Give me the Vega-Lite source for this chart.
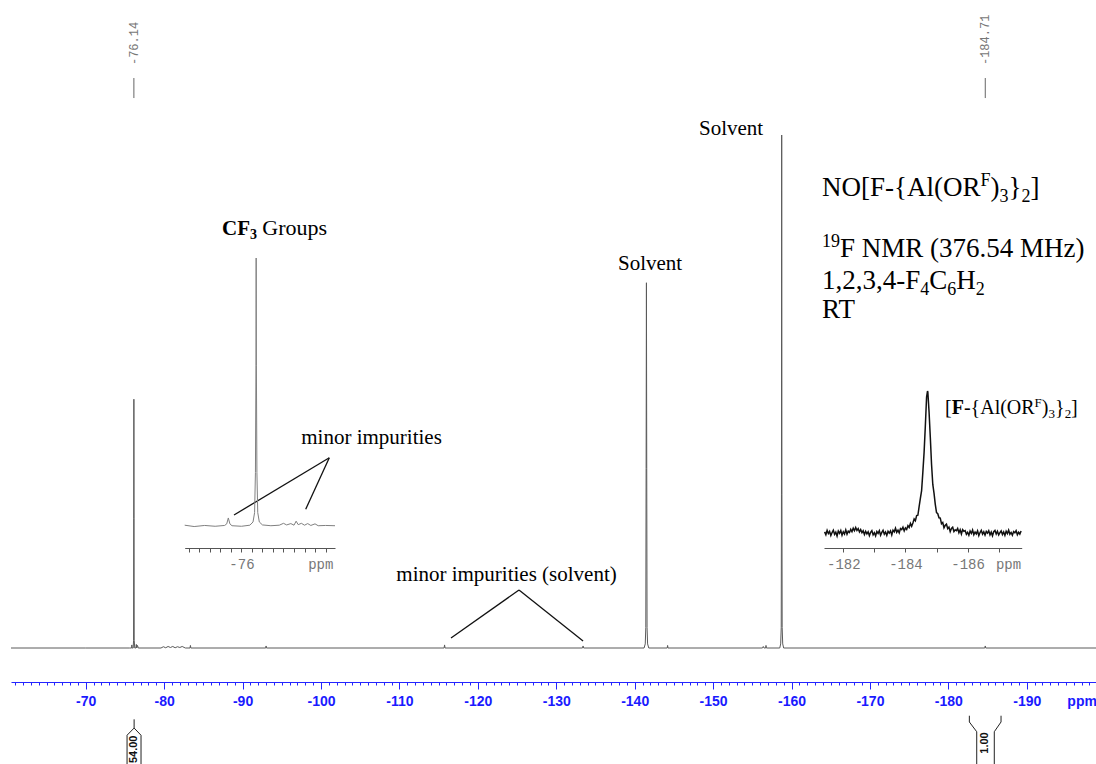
{
  "$schema": "https://vega.github.io/schema/vega-lite/v6.json",
  "width": 1096,
  "height": 764,
  "autosize": "none",
  "padding": 0,
  "background": "white",
  "config": {"view": {"stroke": null}},
  "datasets": {
    "spec": [
      {"p": -60.47, "i": 0}, {"p": -70, "i": 0}, {"p": -75.6, "i": 0}, {"p": -75.85, "i": 0},
      {"p": -75.88, "i": 0.6}, {"p": -75.91, "i": 0}, {"p": -76.05, "i": 0}, {"p": -76.1, "i": 1.5},
      {"p": -76.12, "i": 25.3}, {"p": -76.14, "i": 48.5}, {"p": -76.16, "i": 25.3}, {"p": -76.18, "i": 1.5},
      {"p": -76.25, "i": 0}, {"p": -76.4, "i": 0}, {"p": -76.45, "i": 0.7}, {"p": -76.5, "i": 0},
      {"p": -76.6, "i": 0.5}, {"p": -76.7, "i": 0}, {"p": -79.6, "i": 0}, {"p": -79.9, "i": 0.25},
      {"p": -80.2, "i": 0.05}, {"p": -80.5, "i": 0.3}, {"p": -80.8, "i": 0.1}, {"p": -81.1, "i": 0.3},
      {"p": -81.4, "i": 0.05}, {"p": -81.7, "i": 0.25}, {"p": -82.0, "i": 0.1}, {"p": -82.3, "i": 0.3},
      {"p": -82.7, "i": 0}, {"p": -83.3, "i": 0}, {"p": -83.35, "i": 0.5}, {"p": -83.4, "i": 0},
      {"p": -92.95, "i": 0}, {"p": -93.0, "i": 0.4}, {"p": -93.05, "i": 0}, {"p": -115.7, "i": 0},
      {"p": -115.76, "i": 0.6}, {"p": -115.82, "i": 0}, {"p": -133.35, "i": 0}, {"p": -133.42, "i": 0.4},
      {"p": -133.5, "i": 0}, {"p": -141.2, "i": 0}, {"p": -141.35, "i": 0.8}, {"p": -141.42, "i": 4},
      {"p": -141.46, "i": 35}, {"p": -141.5, "i": 71.2}, {"p": -141.54, "i": 35}, {"p": -141.58, "i": 4},
      {"p": -141.65, "i": 0.8}, {"p": -141.8, "i": 0}, {"p": -144.15, "i": 0}, {"p": -144.2, "i": 0.5},
      {"p": -144.25, "i": 0}, {"p": -156.3, "i": 0}, {"p": -156.4, "i": 0.3}, {"p": -156.5, "i": 0},
      {"p": -156.7, "i": 0}, {"p": -156.75, "i": 0.5}, {"p": -156.8, "i": 0}, {"p": -158.5, "i": 0},
      {"p": -158.62, "i": 0.8}, {"p": -158.69, "i": 4}, {"p": -158.72, "i": 30}, {"p": -158.75, "i": 100},
      {"p": -158.78, "i": 30}, {"p": -158.81, "i": 4}, {"p": -158.88, "i": 0.8}, {"p": -159.0, "i": 0},
      {"p": -184.65, "i": 0}, {"p": -184.71, "i": 0.4}, {"p": -184.77, "i": 0}, {"p": -198.83, "i": 0}
    ],
    "inset1": [
      {"p": -75.46, "i": 0.3}, {"p": -75.55, "i": -0.2}, {"p": -75.65, "i": 0.2}, {"p": -75.75, "i": -0.1},
      {"p": -75.84, "i": 0.2}, {"p": -75.86, "i": 0.8}, {"p": -75.875, "i": 3.0}, {"p": -75.89, "i": 0.8},
      {"p": -75.91, "i": 0.1}, {"p": -76.0, "i": -0.1}, {"p": -76.08, "i": 0.3}, {"p": -76.11, "i": 1.5},
      {"p": -76.125, "i": 5}, {"p": -76.133, "i": 20}, {"p": -76.138, "i": 60}, {"p": -76.14, "i": 100},
      {"p": -76.142, "i": 60}, {"p": -76.147, "i": 20}, {"p": -76.155, "i": 5}, {"p": -76.17, "i": 1.5},
      {"p": -76.2, "i": 0.4}, {"p": -76.28, "i": 0.1}, {"p": -76.36, "i": 0.3}, {"p": -76.4, "i": 1.0},
      {"p": -76.43, "i": 0.4}, {"p": -76.47, "i": 0.9}, {"p": -76.5, "i": 0.3}, {"p": -76.52, "i": 1.8},
      {"p": -76.54, "i": 0.5}, {"p": -76.57, "i": 1.0}, {"p": -76.6, "i": 0.3}, {"p": -76.63, "i": 0.9},
      {"p": -76.66, "i": 0.2}, {"p": -76.7, "i": 0.8}, {"p": -76.73, "i": 0.1}, {"p": -76.8, "i": 0.2},
      {"p": -76.89, "i": 0.1}
    ],
    "inset2": [
      {"p": -181.40, "i": 0.8}, {"p": -181.44, "i": -1.2}, {"p": -181.48, "i": 1.9}, {"p": -181.52, "i": -0.4},
      {"p": -181.56, "i": 1.1}, {"p": -181.60, "i": -1.8}, {"p": -181.64, "i": 0.3}, {"p": -181.68, "i": 2.0},
      {"p": -181.72, "i": -1.0}, {"p": -181.76, "i": 0.6}, {"p": -181.80, "i": -2.1}, {"p": -181.84, "i": 1.4},
      {"p": -181.88, "i": -0.2}, {"p": -181.92, "i": 1.8}, {"p": -181.96, "i": -1.5}, {"p": -182.00, "i": 0.9},
      {"p": -182.04, "i": -0.7}, {"p": -182.08, "i": 2.2}, {"p": -182.12, "i": -0.9}, {"p": -182.16, "i": 1.3},
      {"p": -182.20, "i": 0.4}, {"p": -182.24, "i": 2.6}, {"p": -182.28, "i": 0.9}, {"p": -182.32, "i": 3.4},
      {"p": -182.36, "i": 1.6}, {"p": -182.40, "i": 3.9}, {"p": -182.44, "i": 1.8}, {"p": -182.48, "i": 3.1},
      {"p": -182.52, "i": 0.7}, {"p": -182.56, "i": 2.4}, {"p": -182.60, "i": 0.2}, {"p": -182.64, "i": 1.6},
      {"p": -182.68, "i": -1.1}, {"p": -182.72, "i": 1.2}, {"p": -182.76, "i": -0.6}, {"p": -182.80, "i": 0.9},
      {"p": -182.84, "i": -1.9}, {"p": -182.88, "i": 0.5}, {"p": -182.92, "i": 1.7}, {"p": -182.96, "i": -1.3},
      {"p": -183.00, "i": 0.2}, {"p": -183.04, "i": -2.0}, {"p": -183.08, "i": 1.0}, {"p": -183.12, "i": -0.3},
      {"p": -183.16, "i": 1.6}, {"p": -183.20, "i": -1.6}, {"p": -183.24, "i": 0.4}, {"p": -183.28, "i": 1.9},
      {"p": -183.32, "i": -0.8}, {"p": -183.36, "i": 0.7}, {"p": -183.40, "i": -1.7}, {"p": -183.44, "i": 1.2},
      {"p": -183.48, "i": -0.1}, {"p": -183.52, "i": 1.5}, {"p": -183.56, "i": -1.4}, {"p": -183.60, "i": 2.0},
      {"p": -183.64, "i": 0.8}, {"p": -183.68, "i": 3.4}, {"p": -183.72, "i": 0.5}, {"p": -183.76, "i": 2.0},
      {"p": -183.80, "i": 0.1}, {"p": -183.84, "i": 3.1}, {"p": -183.88, "i": 2.4}, {"p": -183.92, "i": 4.1},
      {"p": -183.96, "i": 1.5}, {"p": -184.00, "i": 3.6}, {"p": -184.04, "i": 2.5}, {"p": -184.08, "i": 5.2},
      {"p": -184.12, "i": 3.9}, {"p": -184.16, "i": 6.7}, {"p": -184.20, "i": 4.7}, {"p": -184.24, "i": 7.1},
      {"p": -184.28, "i": 9.9}, {"p": -184.32, "i": 8.7}, {"p": -184.36, "i": 12.3}, {"p": -184.40, "i": 12.5},
      {"p": -184.44, "i": 18.5}, {"p": -184.48, "i": 24.4}, {"p": -184.52, "i": 29.9}, {"p": -184.56, "i": 42.9},
      {"p": -184.60, "i": 56.8}, {"p": -184.64, "i": 75.3}, {"p": -184.68, "i": 95.8}, {"p": -184.71, "i": 100},
      {"p": -184.72, "i": 99.4}, {"p": -184.76, "i": 85.2}, {"p": -184.80, "i": 67.4}, {"p": -184.84, "i": 48.3},
      {"p": -184.88, "i": 34.2}, {"p": -184.92, "i": 27.9}, {"p": -184.96, "i": 20.2}, {"p": -185.00, "i": 14.3},
      {"p": -185.04, "i": 13.6}, {"p": -185.08, "i": 10.7}, {"p": -185.12, "i": 10.5}, {"p": -185.16, "i": 6.5},
      {"p": -185.20, "i": 7.4}, {"p": -185.24, "i": 3.7}, {"p": -185.28, "i": 5.4}, {"p": -185.32, "i": 6.2},
      {"p": -185.36, "i": 3.1}, {"p": -185.40, "i": 4.2}, {"p": -185.44, "i": 1.0}, {"p": -185.48, "i": 3.2},
      {"p": -185.52, "i": 4.1}, {"p": -185.56, "i": 1.0}, {"p": -185.60, "i": 2.3}, {"p": -185.64, "i": 1.6},
      {"p": -185.68, "i": 3.2}, {"p": -185.72, "i": 0.2}, {"p": -185.76, "i": 2.3}, {"p": -185.80, "i": -0.7},
      {"p": -185.84, "i": 2.4}, {"p": -185.88, "i": 1.2}, {"p": -185.92, "i": 1.7}, {"p": -185.96, "i": -0.9},
      {"p": -186.00, "i": 0.5}, {"p": -186.04, "i": -1.6}, {"p": -186.08, "i": 1.4}, {"p": -186.12, "i": -0.3},
      {"p": -186.16, "i": 2.1}, {"p": -186.20, "i": -1.2}, {"p": -186.24, "i": 0.7}, {"p": -186.28, "i": -0.6},
      {"p": -186.32, "i": 1.5}, {"p": -186.36, "i": -1.8}, {"p": -186.40, "i": 0.3}, {"p": -186.44, "i": 1.9},
      {"p": -186.48, "i": -0.8}, {"p": -186.52, "i": 0.8}, {"p": -186.56, "i": -1.5}, {"p": -186.60, "i": 1.1},
      {"p": -186.64, "i": -0.1}, {"p": -186.68, "i": 1.6}, {"p": -186.72, "i": -1.3}, {"p": -186.76, "i": 0.6},
      {"p": -186.80, "i": -2.0}, {"p": -186.84, "i": 0.9}, {"p": -186.88, "i": 1.8}, {"p": -186.92, "i": -0.7},
      {"p": -186.96, "i": 1.2}, {"p": -187.00, "i": -1.4}, {"p": -187.04, "i": 0.2}, {"p": -187.08, "i": 1.5},
      {"p": -187.12, "i": -1.1}, {"p": -187.16, "i": 0.7}, {"p": -187.20, "i": -1.7}, {"p": -187.24, "i": 1.3},
      {"p": -187.28, "i": -0.4}, {"p": -187.32, "i": 2.0}, {"p": -187.36, "i": -0.9}, {"p": -187.40, "i": 0.4},
      {"p": -187.44, "i": -1.6}, {"p": -187.48, "i": 1.0}, {"p": -187.52, "i": 0.1}, {"p": -187.56, "i": 1.7},
      {"p": -187.60, "i": -1.2}, {"p": -187.64, "i": 0.5}, {"p": -187.68, "i": -0.8}, {"p": -187.72, "i": 1.4}
    ],
    "links": [
      {"p": -101.06, "i": 37.10, "p2": -88.91, "i2": 25.93},
      {"p": -101.06, "i": 37.10, "p2": -98.05, "i2": 27.04},
      {"p": -125.25, "i": 11.31, "p2": -116.58, "i2": 1.95},
      {"p": -125.25, "i": 11.31, "p2": -133.42, "i2": 1.36}
    ],
    "peaks": [
      {"p": -76.14, "i": 113.64, "ia": 111.11, "ib": 107.21, "t": "-76.14"},
      {"p": -184.71, "i": 113.64, "ia": 111.11, "ib": 107.21, "t": "-184.71"}
    ],
    "integ": [
      {"g": "a1", "o": 0, "p": -75.27, "i": -22.61}, {"g": "a1", "o": 1, "p": -75.27, "i": -17.0},
      {"g": "a1", "o": 2, "p": -76.17, "i": -15.6}, {"g": "a1", "o": 3, "p": -77.05, "i": -17.0},
      {"g": "a1", "o": 4, "p": -77.05, "i": -22.61},
      {"g": "a2", "o": 0, "p": -76.17, "i": -13.9}, {"g": "a2", "o": 1, "p": -76.17, "i": -15.6},
      {"g": "b1", "o": 0, "p": -182.68, "i": -13.2}, {"g": "b1", "o": 1, "p": -182.68, "i": -14.42},
      {"g": "b1", "o": 2, "p": -183.62, "i": -16.32}, {"g": "b1", "o": 3, "p": -183.62, "i": -22.61},
      {"g": "b2", "o": 0, "p": -186.72, "i": -13.2}, {"g": "b2", "o": 1, "p": -186.72, "i": -14.42},
      {"g": "b2", "o": 2, "p": -185.86, "i": -16.32}, {"g": "b2", "o": 3, "p": -185.86, "i": -22.61}
    ],
    "intvals": [
      {"p": -76.17, "i": -19.75, "t": "54.00"},
      {"p": -184.7, "i": -18.52, "t": "1.00"}
    ],
    "serif27": [
      {"p": -163.89, "i": 88.11, "t": "NO[F-{Al(OR"},
      {"p": -185.37, "i": 88.11, "t": ")"},
      {"p": -187.67, "i": 88.11, "t": "}"},
      {"p": -190.47, "i": 88.11, "t": "]"},
      {"p": -166.19, "i": 76.22, "t": "F NMR (376.54 MHz)"},
      {"p": -163.89, "i": 69.98, "t": "1,2,3,4-F"},
      {"p": -177.57, "i": 69.98, "t": "C"},
      {"p": -181.01, "i": 69.98, "t": "H"},
      {"p": -163.89, "i": 64.33, "t": "RT"}
    ],
    "serif18": [
      {"p": -184.10, "i": 90.06, "t": "F"},
      {"p": -186.52, "i": 86.94, "t": "3"},
      {"p": -189.32, "i": 86.94, "t": "2"},
      {"p": -163.89, "i": 78.17, "t": "19"},
      {"p": -176.42, "i": 68.81, "t": "4"},
      {"p": -179.86, "i": 68.81, "t": "6"},
      {"p": -183.50, "i": 68.81, "t": "2"}
    ],
    "serif20": [
      {"p": -179.58, "i": 45.61, "t": "["},
      {"p": -181.99, "i": 45.61, "t": "-{Al(OR"},
      {"p": -191.92, "i": 45.61, "t": ")"},
      {"p": -193.60, "i": 45.61, "t": "}"},
      {"p": -195.65, "i": 45.61, "t": "]"}
    ],
    "serif20b": [
      {"p": -180.43, "i": 45.61, "t": "F"}
    ],
    "serif13": [
      {"p": -191.00, "i": 46.98, "t": "F"},
      {"p": -192.77, "i": 44.83, "t": "3"},
      {"p": -194.83, "i": 44.83, "t": "2"}
    ],
    "notes": [
      {"p": -141.96, "i": 73.68, "t": "Solvent"},
      {"p": -152.29, "i": 100.0, "t": "Solvent"},
      {"p": -106.45, "i": 39.77, "t": "minor impurities"},
      {"p": -123.66, "i": 13.06, "t": "minor impurities (solvent)"}
    ],
    "groupsword": [
      {"p": -92.51, "i": 80.51, "t": "Groups"}
    ],
    "cfbold": [
      {"p": -87.38, "i": 80.51, "t": "CF"}
    ],
    "cfsub": [
      {"p": -90.95, "i": 79.73, "t": "3"}
    ]
  },
  "layer": [
    {
      "layer": [
        {
          "data": {"name": "spec"},
          "mark": {"type": "line", "color": "#5a5a5a", "strokeWidth": 1},
          "encoding": {
            "x": {
              "field": "p", "type": "quantitative",
              "scale": {"domain": [-60.47, -198.83], "range": [11, 1096], "nice": false, "zero": false},
              "axis": {
                "orient": "bottom", "offset": -82, "title": null, "grid": false,
                "values": [-70, -80, -90, -100, -110, -120, -130, -140, -150, -160, -170, -180, -190, -197],
                "labelExpr": "datum.value == -197 ? 'ppm' : '' + datum.value",
                "tickOpacity": {"condition": {"test": "datum.value == -197", "value": 0}, "value": 1},
                "tickSize": 7, "tickColor": "#2424ff", "tickWidth": 1,
                "domain": true, "domainColor": "#2424ff", "domainWidth": 1,
                "labelColor": "#1a1aff", "labelFont": "Liberation Sans", "labelFontWeight": "bold",
                "labelFontSize": 14, "labelPadding": 5, "labelOverlap": false, "labelFlush": false, "labelBound": false
              }
            },
            "y": {
              "field": "i", "type": "quantitative",
              "scale": {"domain": [-22.61, 126.32], "nice": false, "zero": false},
              "axis": null
            }
          }
        },
        {
          "data": {"name": "links"},
          "mark": {"type": "rule", "color": "#111111", "strokeWidth": 1.3},
          "encoding": {
            "x": {
              "field": "p", "type": "quantitative",
              "scale": {"domain": [-60.47, -198.83], "range": [11, 1096], "nice": false, "zero": false},
              "axis": {
                "orient": "bottom", "offset": -82, "title": null, "grid": false, "labels": false,
                "domain": false, "tickSize": 3, "tickColor": "#2424ff", "tickWidth": 1,
                "values": [-61, -62, -63, -64, -65, -66, -67, -68, -69, -71, -72, -73, -74, -75, -76, -77, -78, -79,
                  -81, -82, -83, -84, -85, -86, -87, -88, -89, -91, -92, -93, -94, -95, -96, -97, -98, -99,
                  -101, -102, -103, -104, -105, -106, -107, -108, -109, -111, -112, -113, -114, -115, -116, -117, -118, -119,
                  -121, -122, -123, -124, -125, -126, -127, -128, -129, -131, -132, -133, -134, -135, -136, -137, -138, -139,
                  -141, -142, -143, -144, -145, -146, -147, -148, -149, -151, -152, -153, -154, -155, -156, -157, -158, -159,
                  -161, -162, -163, -164, -165, -166, -167, -168, -169, -171, -172, -173, -174, -175, -176, -177, -178, -179,
                  -181, -182, -183, -184, -185, -186, -187, -188, -189, -191, -192, -193, -194, -195, -196, -197, -198]
              }
            },
            "x2": {"field": "p2"},
            "y": {"field": "i", "type": "quantitative", "scale": {"domain": [-22.61, 126.32], "nice": false, "zero": false}, "axis": null},
            "y2": {"field": "i2"}
          }
        },
        {
          "data": {"name": "peaks"},
          "mark": {"type": "rule", "color": "#666666", "strokeWidth": 1},
          "encoding": {
            "x": {"field": "p", "type": "quantitative", "scale": {"domain": [-60.47, -198.83], "range": [11, 1096], "nice": false, "zero": false}, "axis": null},
            "y": {"field": "ia", "type": "quantitative", "scale": {"domain": [-22.61, 126.32], "nice": false, "zero": false}, "axis": null},
            "y2": {"field": "ib"}
          }
        },
        {
          "data": {"name": "peaks"},
          "mark": {"type": "text", "angle": 270, "align": "left", "baseline": "middle", "font": "Liberation Mono", "fontSize": 12, "color": "#777777"},
          "encoding": {
            "x": {"field": "p", "type": "quantitative", "scale": {"domain": [-60.47, -198.83], "range": [11, 1096], "nice": false, "zero": false}, "axis": null},
            "y": {"field": "i", "type": "quantitative", "scale": {"domain": [-22.61, 126.32], "nice": false, "zero": false}, "axis": null},
            "text": {"field": "t"}
          }
        },
        {
          "data": {"name": "integ"},
          "mark": {"type": "line", "color": "#222222", "strokeWidth": 1},
          "encoding": {
            "x": {"field": "p", "type": "quantitative", "scale": {"domain": [-60.47, -198.83], "range": [11, 1096], "nice": false, "zero": false}, "axis": null},
            "y": {"field": "i", "type": "quantitative", "scale": {"domain": [-22.61, 126.32], "nice": false, "zero": false}, "axis": null},
            "detail": {"field": "g"},
            "order": {"field": "o"}
          }
        },
        {
          "data": {"name": "intvals"},
          "mark": {"type": "text", "angle": 270, "align": "center", "baseline": "middle", "font": "Liberation Sans", "fontWeight": "bold", "fontSize": 11, "color": "#111111"},
          "encoding": {
            "x": {"field": "p", "type": "quantitative", "scale": {"domain": [-60.47, -198.83], "range": [11, 1096], "nice": false, "zero": false}, "axis": null},
            "y": {"field": "i", "type": "quantitative", "scale": {"domain": [-22.61, 126.32], "nice": false, "zero": false}, "axis": null},
            "text": {"field": "t"}
          }
        },
        {
          "data": {"name": "serif27"},
          "mark": {"type": "text", "align": "left", "baseline": "alphabetic", "font": "Liberation Serif", "fontSize": 27, "color": "#000000"},
          "encoding": {
            "x": {"field": "p", "type": "quantitative", "scale": {"domain": [-60.47, -198.83], "range": [11, 1096], "nice": false, "zero": false}, "axis": null},
            "y": {"field": "i", "type": "quantitative", "scale": {"domain": [-22.61, 126.32], "nice": false, "zero": false}, "axis": null},
            "text": {"field": "t"}
          }
        },
        {
          "data": {"name": "serif18"},
          "mark": {"type": "text", "align": "left", "baseline": "alphabetic", "font": "Liberation Serif", "fontSize": 18, "color": "#000000"},
          "encoding": {
            "x": {"field": "p", "type": "quantitative", "scale": {"domain": [-60.47, -198.83], "range": [11, 1096], "nice": false, "zero": false}, "axis": null},
            "y": {"field": "i", "type": "quantitative", "scale": {"domain": [-22.61, 126.32], "nice": false, "zero": false}, "axis": null},
            "text": {"field": "t"}
          }
        },
        {
          "data": {"name": "serif20"},
          "mark": {"type": "text", "align": "left", "baseline": "alphabetic", "font": "Liberation Serif", "fontSize": 20, "color": "#000000"},
          "encoding": {
            "x": {"field": "p", "type": "quantitative", "scale": {"domain": [-60.47, -198.83], "range": [11, 1096], "nice": false, "zero": false}, "axis": null},
            "y": {"field": "i", "type": "quantitative", "scale": {"domain": [-22.61, 126.32], "nice": false, "zero": false}, "axis": null},
            "text": {"field": "t"}
          }
        },
        {
          "data": {"name": "serif20b"},
          "mark": {"type": "text", "align": "left", "baseline": "alphabetic", "font": "Liberation Serif", "fontWeight": "bold", "fontSize": 20, "color": "#000000"},
          "encoding": {
            "x": {"field": "p", "type": "quantitative", "scale": {"domain": [-60.47, -198.83], "range": [11, 1096], "nice": false, "zero": false}, "axis": null},
            "y": {"field": "i", "type": "quantitative", "scale": {"domain": [-22.61, 126.32], "nice": false, "zero": false}, "axis": null},
            "text": {"field": "t"}
          }
        },
        {
          "data": {"name": "serif13"},
          "mark": {"type": "text", "align": "left", "baseline": "alphabetic", "font": "Liberation Serif", "fontSize": 13, "color": "#000000"},
          "encoding": {
            "x": {"field": "p", "type": "quantitative", "scale": {"domain": [-60.47, -198.83], "range": [11, 1096], "nice": false, "zero": false}, "axis": null},
            "y": {"field": "i", "type": "quantitative", "scale": {"domain": [-22.61, 126.32], "nice": false, "zero": false}, "axis": null},
            "text": {"field": "t"}
          }
        },
        {
          "data": {"name": "notes"},
          "mark": {"type": "text", "align": "center", "baseline": "alphabetic", "font": "Liberation Serif", "fontSize": 21, "color": "#000000"},
          "encoding": {
            "x": {"field": "p", "type": "quantitative", "scale": {"domain": [-60.47, -198.83], "range": [11, 1096], "nice": false, "zero": false}, "axis": null},
            "y": {"field": "i", "type": "quantitative", "scale": {"domain": [-22.61, 126.32], "nice": false, "zero": false}, "axis": null},
            "text": {"field": "t"}
          }
        },
        {
          "data": {"name": "groupsword"},
          "mark": {"type": "text", "align": "left", "baseline": "alphabetic", "font": "Liberation Serif", "fontSize": 22, "color": "#000000"},
          "encoding": {
            "x": {"field": "p", "type": "quantitative", "scale": {"domain": [-60.47, -198.83], "range": [11, 1096], "nice": false, "zero": false}, "axis": null},
            "y": {"field": "i", "type": "quantitative", "scale": {"domain": [-22.61, 126.32], "nice": false, "zero": false}, "axis": null},
            "text": {"field": "t"}
          }
        },
        {
          "data": {"name": "cfbold"},
          "mark": {"type": "text", "align": "left", "baseline": "alphabetic", "font": "Liberation Serif", "fontWeight": "bold", "fontSize": 21, "color": "#000000"},
          "encoding": {
            "x": {"field": "p", "type": "quantitative", "scale": {"domain": [-60.47, -198.83], "range": [11, 1096], "nice": false, "zero": false}, "axis": null},
            "y": {"field": "i", "type": "quantitative", "scale": {"domain": [-22.61, 126.32], "nice": false, "zero": false}, "axis": null},
            "text": {"field": "t"}
          }
        },
        {
          "data": {"name": "cfsub"},
          "mark": {"type": "text", "align": "left", "baseline": "alphabetic", "font": "Liberation Serif", "fontWeight": "bold", "fontSize": 14, "color": "#000000"},
          "encoding": {
            "x": {"field": "p", "type": "quantitative", "scale": {"domain": [-60.47, -198.83], "range": [11, 1096], "nice": false, "zero": false}, "axis": null},
            "y": {"field": "i", "type": "quantitative", "scale": {"domain": [-22.61, 126.32], "nice": false, "zero": false}, "axis": null},
            "text": {"field": "t"}
          }
        }
      ],
      "resolve": {"axis": {"x": "independent"}}
    },
    {
      "data": {"name": "inset1"},
      "mark": {"type": "line", "color": "#808080", "strokeWidth": 1},
      "encoding": {
        "x": {
          "field": "p", "type": "quantitative",
          "scale": {"domain": [-75.46, -76.89], "range": [184.7, 335], "nice": false, "zero": false},
          "axis": {
            "orient": "bottom", "offset": -216, "title": null, "grid": false,
            "values": [-75.5, -75.6, -75.7, -75.8, -75.9, -76, -76.1, -76.2, -76.3, -76.4, -76.5, -76.6, -76.7, -76.75, -76.8],
            "labelExpr": "datum.value == -76 ? '-76' : (datum.value == -76.75 ? 'ppm' : '')",
            "tickOpacity": {"condition": {"test": "datum.value == -76.75", "value": 0}, "value": 1},
            "tickSize": 4, "tickColor": "#555555", "domainColor": "#555555",
            "labelFont": "Liberation Mono", "labelFontSize": 14, "labelColor": "#777777",
            "labelPadding": 5, "labelOverlap": false, "labelFlush": false, "labelBound": false
          }
        },
        "y": {
          "field": "i", "type": "quantitative",
          "scale": {"domain": [0, 100], "range": [526, 258], "nice": false, "zero": false},
          "axis": null
        }
      }
    },
    {
      "data": {"name": "inset2"},
      "mark": {"type": "line", "color": "#111111", "strokeWidth": 1.5},
      "encoding": {
        "x": {
          "field": "p", "type": "quantitative",
          "scale": {"domain": [-181.38, -187.74], "range": [824, 1021.7], "nice": false, "zero": false},
          "axis": {
            "orient": "bottom", "offset": -216, "title": null, "grid": false,
            "values": [-182, -183, -184, -185, -186, -187, -187.3],
            "labelExpr": "datum.value == -187.3 ? 'ppm' : (datum.value % 2 == 0 ? '' + datum.value : '')",
            "tickOpacity": {"condition": {"test": "datum.value == -187.3", "value": 0}, "value": 1},
            "tickSize": 4, "tickColor": "#555555", "domainColor": "#555555",
            "labelFont": "Liberation Mono", "labelFontSize": 14, "labelColor": "#777777",
            "labelPadding": 5, "labelOverlap": false, "labelFlush": false, "labelBound": false
          }
        },
        "y": {
          "field": "i", "type": "quantitative",
          "scale": {"domain": [0, 100], "range": [533, 391], "nice": false, "zero": false},
          "axis": null
        }
      }
    }
  ],
  "resolve": {
    "scale": {"x": "independent", "y": "independent"},
    "axis": {"x": "independent", "y": "independent"}
  }
}
